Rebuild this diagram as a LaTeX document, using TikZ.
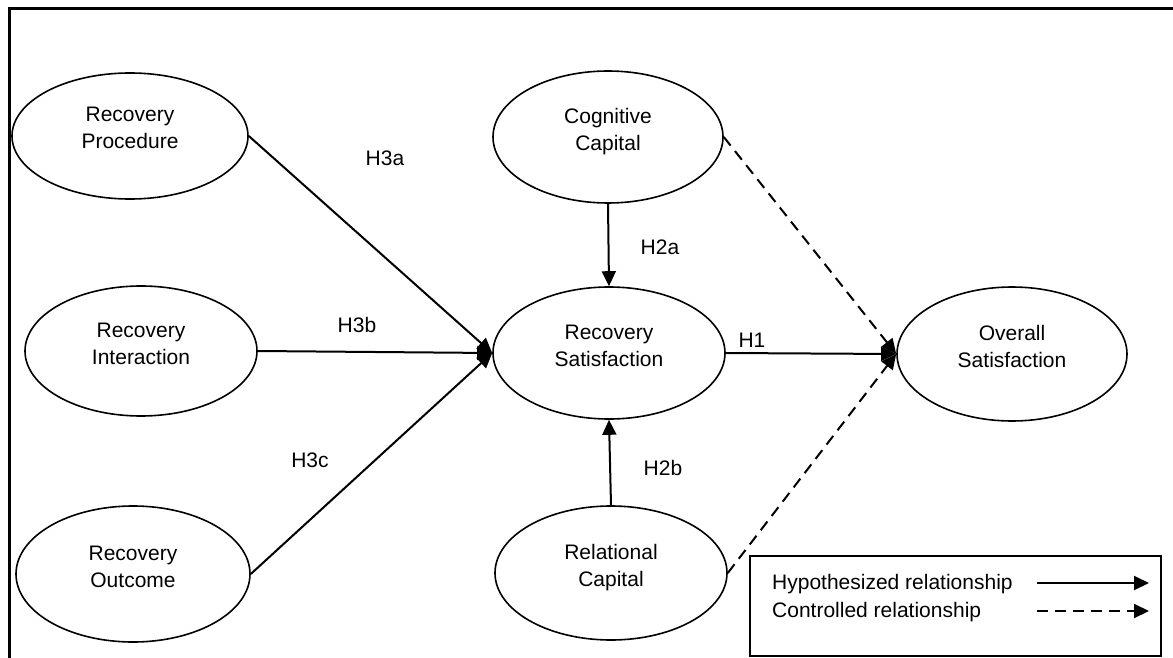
\documentclass[tikz,border=0pt]{standalone}
\usepackage{fontspec}
\setmainfont{Liberation Sans}
\usetikzlibrary{arrows.meta,shapes.geometric}
% two centred lines; the struts keep every ellipse text at the same height
\newcommand\twolines[2]{\rule{0pt}{19pt}#1\\#2\rule[-20pt]{0pt}{20pt}}
\begin{document}
\begin{tikzpicture}[x=1pt,y=-1pt,
  every node/.style={font=\fontsize{21}{27}\selectfont},
  construct/.style={ellipse, draw, line width=1.6pt, inner sep=0pt, align=center},
  hyp/.style={line width=2pt, -{Triangle[length=15pt,width=14pt]}},
  ctrl/.style={hyp, dash pattern=on 11pt off 7pt},
  hlabel/.style={inner sep=0pt}]
\useasboundingbox (0,0) rectangle (1173,658);

% outer frame (top and left edges only)
\draw[line width=3pt] (9.5,658) -- (9.5,9) -- (1173,9);

% constructs
\node[construct, minimum width=236pt, minimum height=126pt] (rp) at (130,136) {\twolines{Recovery}{Procedure}};
\node[construct, minimum width=232pt, minimum height=130pt] (ri) at (141,351) {\twolines{Recovery}{Interaction}};
\node[construct, minimum width=234pt, minimum height=136pt] (ro) at (133,574) {\twolines{Recovery}{Outcome}};
\node[construct, minimum width=230pt, minimum height=132pt] (cc) at (608,137) {\twolines{Cognitive}{Capital}};
\node[construct, minimum width=232pt, minimum height=132pt] (rs) at (609,353) {\twolines{Recovery}{Satisfaction}};
\node[construct, minimum width=232pt, minimum height=134pt] (rc) at (611,573) {\twolines{Relational}{Capital}};
\node[construct, minimum width=230pt, minimum height=134pt] (os) at (1012,354) {\twolines{Overall}{Satisfaction}};

% hypothesized paths
\draw[hyp] (rp.east) -- (rs.west);
\draw[hyp] (ri.east) -- (rs.west);
\draw[hyp] (ro.east) -- (rs.west);
\draw[hyp] (cc.south) -- (rs.north);
\draw[hyp] (rc.north) -- (rs.south);
\draw[hyp] (rs.east) -- (os.west);

% controlled paths
\draw[ctrl] (cc.east) -- (os.west);
\draw[ctrl] (rc.east) -- (os.west);

% path labels
\node[hlabel] (h3a) at (385,158) {H3a};
\node[hlabel] (h3b) at (357,325) {H3b};
\node[hlabel] (h3c) at (310,460) {H3c};
\node[hlabel] (h2a) at (660,247) {H2a};
\node[hlabel] (h2b) at (663,468) {H2b};
\node[hlabel] (h1)  at (752,340) {H1};

% legend
\node[draw, line width=1.5pt, minimum width=411pt, minimum height=100pt, inner sep=0pt] (legend) at (955.5,606) {};
\node[anchor=base west, inner sep=0pt] (hyptext) at (772,589) {Hypothesized relationship};
\node[anchor=base west, inner sep=0pt] (ctrltext) at (772,617) {Controlled relationship};
\coordinate (hypfrom) at (1037,583);
\coordinate (hypto) at (1149,583);
\coordinate (ctrlfrom) at (1037,611);
\coordinate (ctrlto) at (1149,611);
\draw[hyp] (hypfrom) -- (hypto);
\draw[ctrl] (ctrlfrom) -- (ctrlto);
\end{tikzpicture}
\end{document}
